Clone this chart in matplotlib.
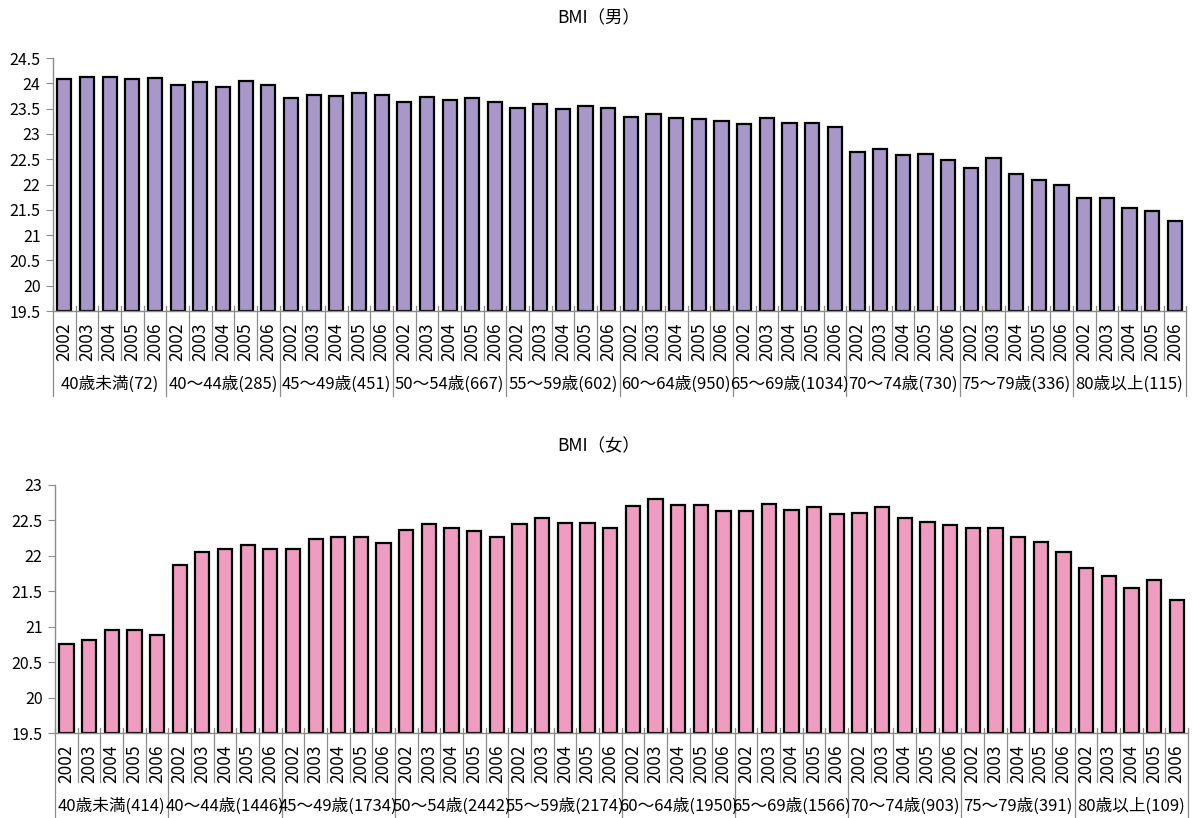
import matplotlib
matplotlib.use("Agg")
import matplotlib.pyplot as plt
import matplotlib.transforms as mtransforms
import numpy as np

plt.rcParams["font.family"] = ["Noto Sans CJK JP", "DejaVu Sans"]

YEARS = ["2002", "2003", "2004", "2005", "2006"]

MALE_GROUPS = ["40歳未満(72)", "40～44歳(285)", "45～49歳(451)", "50～54歳(667)",
               "55～59歳(602)", "60～64歳(950)", "65～69歳(1034)", "70～74歳(730)",
               "75～79歳(336)", "80歳以上(115)"]
FEMALE_GROUPS = ["40歳未満(414)", "40～44歳(1446)", "45～49歳(1734)", "50～54歳(2442)",
                 "55～59歳(2174)", "60～64歳(1950)", "65～69歳(1566)", "70～74歳(903)",
                 "75～79歳(391)", "80歳以上(109)"]

# BMI per age group, years 2002-2006
male_bmi = [
    [24.08, 24.13, 24.13, 24.08, 24.11],
    [23.97, 24.02, 23.92, 24.05, 23.97],
    [23.72, 23.77, 23.75, 23.80, 23.77],
    [23.64, 23.74, 23.67, 23.72, 23.63],
    [23.51, 23.60, 23.49, 23.55, 23.51],
    [23.34, 23.40, 23.32, 23.29, 23.26],
    [23.20, 23.31, 23.22, 23.22, 23.13],
    [22.64, 22.70, 22.58, 22.61, 22.49],
    [22.32, 22.52, 22.20, 22.09, 22.00],
    [21.74, 21.74, 21.53, 21.47, 21.27],
]
female_bmi = [
    [20.76, 20.81, 20.95, 20.95, 20.88],
    [21.87, 22.06, 22.10, 22.16, 22.10],
    [22.10, 22.24, 22.26, 22.26, 22.18],
    [22.36, 22.45, 22.39, 22.35, 22.27],
    [22.45, 22.53, 22.47, 22.47, 22.39],
    [22.70, 22.80, 22.72, 22.72, 22.63],
    [22.63, 22.73, 22.65, 22.69, 22.59],
    [22.61, 22.69, 22.54, 22.48, 22.44],
    [22.39, 22.39, 22.27, 22.19, 22.06],
    [21.83, 21.72, 21.54, 21.66, 21.37],
]

AXIS_GREY = "#8c8c8c"


def draw_panel(ax, values, groups, color, ymax, inner_drop, group_drop, label_y):
    flat = np.array(values).ravel()
    n_years = len(YEARS)
    x = np.arange(len(flat))
    ax.bar(x, flat - 19.5, bottom=19.5, width=0.63, color=color,
           edgecolor="black", linewidth=1.6)
    ax.set_xlim(-0.5, len(flat) - 0.5)
    ax.set_ylim(19.5, ymax)
    ticks = np.arange(19.5, ymax + 0.01, 0.5)
    ax.set_yticks(ticks)
    ax.set_yticklabels([f"{t:g}" for t in ticks], fontsize=11.5)

    ax.set_xticks(x)
    ax.set_xticklabels(YEARS * len(groups), rotation=90, fontsize=12.5)
    ax.tick_params(axis="x", length=0, pad=8)
    ax.tick_params(axis="y", length=5, color=AXIS_GREY, direction="out", pad=4)

    for side in ("top", "right"):
        ax.spines[side].set_visible(False)
    for side in ("left", "bottom"):
        ax.spines[side].set_color(AXIS_GREY)
        ax.spines[side].set_linewidth(1.0)

    # category separators below the axis, longer between age groups
    trans = mtransforms.blended_transform_factory(ax.transData, ax.transAxes)
    for b in range(len(flat) + 1):
        pos = b - 0.5
        low = group_drop if b % n_years == 0 else inner_drop
        ax.plot([pos, pos], [0.02, low], transform=trans, color=AXIS_GREY,
                linewidth=0.9, clip_on=False)

    for g, name in enumerate(groups):
        ax.text(g * n_years + (n_years - 1) / 2, label_y, name, transform=trans,
                ha="center", va="center", fontsize=12)


fig = plt.figure(figsize=(11.97, 8.18), dpi=100)
ax_m = fig.add_axes([0.0443, 0.6198, 0.9467, 0.3092])
ax_f = fig.add_axes([0.046, 0.1039, 0.9465, 0.3032])

draw_panel(ax_m, male_bmi, MALE_GROUPS, "#a898ca", 24.5, -0.194, -0.335, -0.29)
draw_panel(ax_f, female_bmi, FEMALE_GROUPS, "#ee9dc0", 23.0, -0.198, -0.345, -0.294)

fig.text(0.5, 1 - 18 / 818, "BMI（男）", ha="center", va="center", fontsize=12.5)
fig.text(0.5, 1 - 446 / 818, "BMI（女）", ha="center", va="center", fontsize=12.5)

fig.savefig("out.png", dpi=100)
